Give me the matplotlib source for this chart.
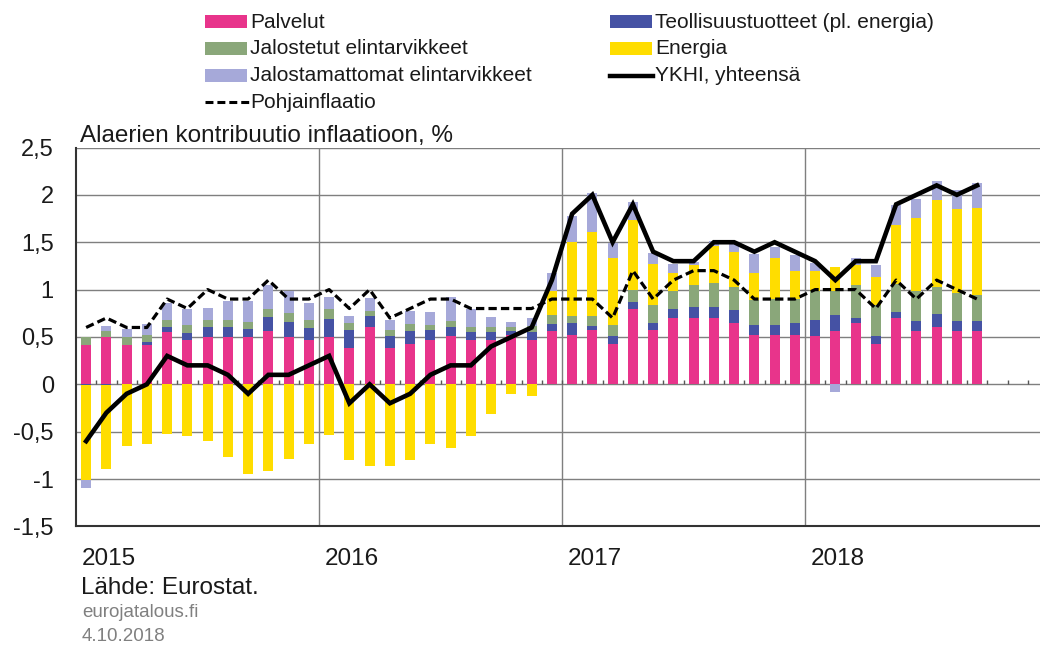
import numpy as np
import matplotlib
matplotlib.use("Agg")
import matplotlib.pyplot as plt
from matplotlib.patches import Rectangle
from matplotlib.lines import Line2D

plt.rcParams['font.family'] = ['Liberation Sans', 'DejaVu Sans']

# ---- data (monthly, Jan 2015 - Sep 2018) ----
years = ['2015', '2016', '2017', '2018']

palvelut = [0.42, 0.50, 0.42, 0.42, 0.55, 0.47, 0.50, 0.50, 0.50, 0.56, 0.50, 0.47,
            0.50, 0.38, 0.60, 0.38, 0.43, 0.47, 0.51, 0.47, 0.47, 0.52, 0.47, 0.56,
            0.52, 0.57, 0.43, 0.79, 0.57, 0.70, 0.70, 0.70, 0.65, 0.52, 0.52, 0.52,
            0.51, 0.56, 0.65, 0.43, 0.70, 0.56, 0.61, 0.56, 0.56]

teollisuus = [-0.01, -0.01, 0.00, 0.03, 0.05, 0.07, 0.10, 0.10, 0.08, 0.15, 0.16, 0.12,
              0.19, 0.19, 0.12, 0.13, 0.13, 0.10, 0.10, 0.08, 0.08, 0.04, 0.08, 0.08,
              0.13, 0.05, 0.08, 0.08, 0.08, 0.10, 0.12, 0.12, 0.13, 0.11, 0.11, 0.13,
              0.17, 0.17, 0.05, 0.08, 0.06, 0.11, 0.13, 0.11, 0.11]

jalostetut = [0.08, 0.06, 0.08, 0.07, 0.08, 0.09, 0.08, 0.08, 0.08, 0.08, 0.09, 0.09,
              0.10, 0.08, 0.05, 0.06, 0.08, 0.06, 0.06, 0.06, 0.06, 0.05, 0.07, 0.09,
              0.07, 0.10, 0.12, 0.13, 0.19, 0.18, 0.23, 0.25, 0.25, 0.26, 0.27, 0.25,
              0.30, 0.26, 0.35, 0.33, 0.30, 0.31, 0.29, 0.29, 0.27]

energia = [-1.00, -0.88, -0.65, -0.63, -0.52, -0.55, -0.60, -0.77, -0.95, -0.92, -0.79, -0.63,
           -0.54, -0.80, -0.86, -0.86, -0.80, -0.63, -0.67, -0.55, -0.31, -0.10, -0.12, 0.26,
           0.78, 0.89, 0.70, 0.73, 0.43, 0.19, 0.21, 0.39, 0.37, 0.28, 0.43, 0.30,
           0.22, 0.25, 0.21, 0.29, 0.62, 0.78, 0.92, 0.89, 0.92]

jalostamattomat = [-0.08, 0.06, 0.08, 0.12, 0.18, 0.17, 0.13, 0.20, 0.22, 0.26, 0.23, 0.18,
                   0.13, 0.07, 0.14, 0.11, 0.13, 0.13, 0.25, 0.19, 0.10, 0.05, 0.08, 0.18,
                   0.28, 0.41, 0.16, 0.19, 0.12, 0.10, 0.03, 0.05, 0.10, 0.21, 0.12, 0.16,
                   0.08, -0.08, 0.07, 0.13, 0.21, 0.20, 0.20, 0.20, 0.26]

ykhi = [-0.6, -0.3, -0.1, 0.0, 0.3, 0.2, 0.2, 0.1, -0.1, 0.1, 0.1, 0.2,
        0.3, -0.2, 0.0, -0.2, -0.1, 0.1, 0.2, 0.2, 0.4, 0.5, 0.6, 1.1,
        1.8, 2.0, 1.5, 1.9, 1.4, 1.3, 1.3, 1.5, 1.5, 1.4, 1.5, 1.4,
        1.3, 1.1, 1.3, 1.3, 1.9, 2.0, 2.1, 2.0, 2.1]

pohja = [0.6, 0.7, 0.6, 0.6, 0.9, 0.8, 1.0, 0.9, 0.9, 1.1, 0.9, 0.9,
         1.0, 0.8, 1.0, 0.7, 0.8, 0.9, 0.9, 0.8, 0.8, 0.8, 0.8, 0.9,
         0.9, 0.9, 0.7, 1.2, 0.9, 1.1, 1.2, 1.2, 1.1, 0.9, 0.9, 0.9,
         1.0, 1.0, 1.0, 0.8, 1.1, 0.9, 1.1, 1.0, 0.9]

series = [
    ('Palvelut', palvelut, '#E8348B'),
    ('Teollisuustuotteet (pl. energia)', teollisuus, '#4552A4'),
    ('Jalostetut elintarvikkeet', jalostetut, '#8AA77A'),
    ('Energia', energia, '#FFDD00'),
    ('Jalostamattomat elintarvikkeet', jalostamattomat, '#A6A9D9'),
]

W, H = 1040, 645
fig = plt.figure(figsize=(W / 100, H / 100), dpi=100)

def fx(px):
    return px / W

def fy(py):
    return 1 - py / H

ax_left, ax_right, ax_top, ax_bottom = 76, 1040, 147.5, 526.4
ax = fig.add_axes([fx(ax_left), fy(ax_bottom), fx(ax_right - ax_left),
                   (ax_bottom - ax_top) / H])

n = len(palvelut)
x = np.arange(n)
pos = np.zeros(n)
neg = np.zeros(n)
for name, vals, col in series:
    v = np.array(vals)
    bottom = np.where(v >= 0, pos, neg)
    ax.bar(x, v, width=0.5, bottom=bottom, color=col, edgecolor='none', zorder=2)
    pos = pos + np.where(v >= 0, v, 0)
    neg = neg + np.where(v < 0, v, 0)

ax.plot(x, pohja, color='black', lw=2.3, dashes=(2.6, 1.3), zorder=4)
ax.plot(x, ykhi, color='black', lw=3.3, solid_joinstyle='miter', zorder=5)

ax.set_xlim(-0.5, -0.5 + (ax_right - ax_left) / 20.25)
ax.set_ylim(-1.5, 2.5)
yt = np.arange(-1.5, 2.51, 0.5)
ax.set_yticks(yt)
ax.set_yticklabels([('%g' % round(v, 1)).replace('.', ',') for v in yt],
                   fontsize=17, color='#1a1a1a')
ax.tick_params(axis='y', length=0, pad=16)
ax.set_xticks([])
ax.yaxis.grid(True, color='#7f7f7f', lw=1.0, zorder=0)
ax.set_axisbelow(True)
for xv in [11.5, 23.5, 35.5]:
    ax.axvline(xv, color='#7f7f7f', lw=1.0, zorder=0)

# monthly category ticks on the zero line
ax.vlines(np.arange(0.5, 47.0, 1.0), 0, 0.05, color='#555555', lw=1.0, zorder=1)

for s in ['top', 'right']:
    ax.spines[s].set_visible(False)
ax.spines['left'].set_color('#333333')
ax.spines['left'].set_linewidth(1.5)
ax.spines['bottom'].set_color('#333333')
ax.spines['bottom'].set_linewidth(1.5)

# year labels
for i, yl in enumerate(years):
    fig.text(fx(82 + i * 243), fy(565), yl, fontsize=17.5, color='#1a1a1a',
             ha='left', va='baseline')

# titles & footnotes
fig.text(fx(80), fy(142), 'Alaerien kontribuutio inflaatioon, %', fontsize=17.5,
         color='#1a1a1a', ha='left', va='baseline')
fig.text(fx(81), fy(594), 'Lähde: Eurostat.', fontsize=17.5, color='#1a1a1a',
         ha='left', va='baseline')
fig.text(fx(82), fy(617), 'eurojatalous.fi', fontsize=13.5, color='#808080',
         ha='left', va='baseline')
fig.text(fx(82), fy(641), '4.10.2018', fontsize=13.5, color='#808080',
         ha='left', va='baseline')

# legend (manual, two columns)
col_x = [205, 610]
base_y = [27.5, 54.5, 81.2, 107.8]
entries = [
    (0, 0, 'patch', series[0][2], series[0][0]),
    (1, 0, 'patch', series[1][2], series[1][0]),
    (0, 1, 'patch', series[2][2], series[2][0]),
    (1, 1, 'patch', series[3][2], series[3][0]),
    (0, 2, 'patch', series[4][2], series[4][0]),
    (1, 2, 'line', 'black', 'YKHI, yhteensä'),
    (0, 3, 'dash', 'black', 'Pohjainflaatio'),
]
for c, r, kind, col, label in entries:
    x0 = col_x[c]
    yb = base_y[r]
    if kind == 'patch':
        fig.patches.append(Rectangle((fx(x0), fy(yb + 0.5)), fx(42), 12.5 / H,
                                     transform=fig.transFigure, facecolor=col,
                                     edgecolor='none'))
    elif kind == 'line':
        fig.lines.append(Line2D([fx(x0), fx(x0 + 43)], [fy(yb - 5.5)] * 2,
                                transform=fig.transFigure, color=col, lw=3.2))
    else:
        fig.lines.append(Line2D([fx(x0), fx(x0 + 44)], [fy(yb - 6)] * 2,
                                transform=fig.transFigure, color=col, lw=2.2,
                                dashes=(2.6, 1.3)))
    fig.text(fx(x0 + 45), fy(yb), label, fontsize=15, color='#1a1a1a',
             ha='left', va='baseline')

fig.savefig('out.png', dpi=100)
